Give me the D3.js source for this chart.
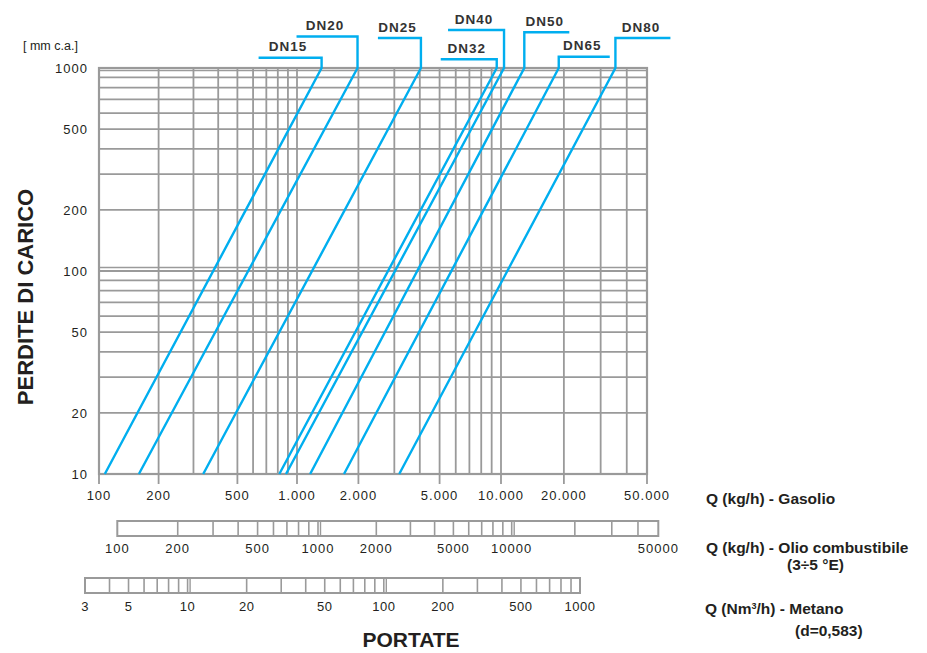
<!DOCTYPE html>
<html>
<head>
<meta charset="utf-8">
<script src="https://cdn.jsdelivr.net/npm/d3@7"></script>
<style>
  html, body { margin: 0; padding: 0; background: #fff; }
  svg { display: block; font-family: "Liberation Sans", Arial, Helvetica, sans-serif; }
</style>
</head>
<body>
<svg id="chart" width="927" height="653"></svg>
<script>
// ---------------- DATA ----------------
const seriesNames   = ["DN15", "DN20", "DN25", "DN32", "DN40", "DN50", "DN65", "DN80"];
// Flow (kg/h gasolio) at pressure loss 10 mm c.a. and 1000 mm c.a.
const flowAtLow     = [107, 159, 336, 814, 880, 1160, 1700, 3170];
const flowAtHigh    = [1320, 1980, 4050, 9530, 10340, 12930, 18900, 35300];
const pressureEnds  = [10, 1000];

const xTickValues   = [100, 200, 500, 1000, 2000, 5000, 10000, 20000, 50000];
const xTickLabels   = ["100", "200", "500", "1.000", "2.000", "5.000", "10.000", "20.000", "50.000"];
const yTickValues   = [10, 20, 50, 100, 200, 500, 1000];
const yTickLabels   = ["10", "20", "50", "100", "200", "500", "1000"];

const olioTickValues   = [100, 200, 500, 1000, 2000, 5000, 10000, 50000];
const olioTickLabels   = ["100", "200", "500", "1000", "2000", "5000", "10000", "50000"];
const metanoTickValues = [3, 5, 10, 20, 50, 100, 200, 500, 1000];
const metanoTickLabels = ["3", "5", "10", "20", "50", "100", "200", "500", "1000"];

// ---------------- LAYOUT (annotation leaders, px) ----------------
const leaderRise = [10.3, 31.5, 30, 8.7, 38, 35.7, 11.3, 30];
const leaderRun  = [-63, -61, -43, -56, -56, 45, 51, 55];

// ---------------- SETUP ----------------
const svg = d3.select("#chart");
const gridColor = "#9a9a9a";
const textColor = "#231f20";
const blue = "#00aeef";

const plot = { left: 99, right: 647, top: 68, bottom: 474 };

const x = d3.scaleLog()
  .domain([100, 1000, 10000, 50000])
  .range([99, 297, 501, 647]);
const y = d3.scaleLog()
  .domain([10, 1000])
  .range([plot.bottom, plot.top]);

const xOlio = d3.scaleLog()
  .domain([100, 1000, 10000, 50000])
  .range([117.3, 318, 511.7, 658.3]);
const xMetano = d3.scaleLog()
  .domain([3, 1000])
  .range([85, 580]);

function minorValues(lo, hi) {
  const out = [];
  for (let d = Math.pow(10, Math.floor(Math.log10(lo))); d <= hi; d *= 10) {
    for (let m = 1; m <= 9; m++) {
      const v = m * d;
      if (v >= lo - 1e-9 && v <= hi + 1e-9) out.push(v);
    }
  }
  return out;
}
const isDecade = v => Math.abs(Math.log10(v) - Math.round(Math.log10(v))) < 1e-9;

// ---------------- GRID ----------------
const grid = svg.append("g").attr("stroke", gridColor).attr("fill", "none");

const xGrid = minorValues(100, 50000);
const yGrid = minorValues(10, 1000);

grid.selectAll("line.v").data(xGrid).join("line")
  .attr("x1", d => x(d)).attr("x2", d => x(d))
  .attr("y1", plot.top).attr("y2", plot.bottom)
  .attr("stroke-width", 1.8);

grid.selectAll("line.h").data(yGrid).join("line")
  .attr("x1", plot.left).attr("x2", plot.right)
  .attr("y1", d => y(d)).attr("y2", d => y(d))
  .attr("stroke-width", 1.8);
grid.selectAll("line.hd").data([100]).join("line")
  .attr("x1", plot.left).attr("x2", plot.right)
  .attr("y1", d => y(d) - 3.5).attr("y2", d => y(d) - 3.5)
  .attr("stroke-width", 1.5);
grid.append("line")
  .attr("x1", plot.left).attr("x2", plot.right)
  .attr("y1", y(1000) + 2.5).attr("y2", y(1000) + 2.5)
  .attr("stroke-width", 1.5);

// tick extensions below the plot
grid.selectAll("line.t").data(xTickValues).join("line")
  .attr("x1", d => x(d)).attr("x2", d => x(d))
  .attr("y1", plot.bottom).attr("y2", plot.bottom + 10)
  .attr("stroke-width", 1.8);

grid.append("rect")
  .attr("x", plot.left).attr("y", plot.top)
  .attr("width", plot.right - plot.left).attr("height", plot.bottom - plot.top)
  .attr("stroke-width", 2.2);

// ---------------- AXIS LABELS ----------------
svg.append("g").selectAll("text").data(xTickValues).join("text")
  .attr("x", d => x(d)).attr("y", 500)
  .attr("text-anchor", "middle")
  .attr("font-size", 13).attr("letter-spacing", 1)
  .attr("fill", textColor)
  .text((d, i) => xTickLabels[i]);

svg.append("g").selectAll("text").data(yTickValues).join("text")
  .attr("x", 88).attr("y", d => y(d) + 5)
  .attr("text-anchor", "end")
  .attr("font-size", 13).attr("letter-spacing", 1)
  .attr("fill", textColor)
  .text((d, i) => yTickLabels[i]);

svg.append("text")
  .attr("x", 23).attr("y", 50)
  .attr("font-size", 12.5)
  .attr("fill", textColor)
  .text("[ mm c.a.]");

svg.append("text")
  .attr("transform", "translate(33,297) rotate(-90)")
  .attr("text-anchor", "middle")
  .attr("font-size", 22).attr("font-weight", "bold")
  .attr("fill", textColor)
  .text("PERDITE DI CARICO");

svg.append("text")
  .attr("x", 411).attr("y", 647)
  .attr("text-anchor", "middle")
  .attr("font-size", 21).attr("font-weight", "bold")
  .attr("fill", textColor)
  .text("PORTATE");

// ---------------- SERIES LINES ----------------
const series = seriesNames.map((name, i) => ({
  name,
  pts: [[flowAtLow[i], pressureEnds[0]], [flowAtHigh[i], pressureEnds[1]]],
  rise: leaderRise[i],
  run: leaderRun[i]
}));

const lineGen = d3.line().x(d => x(d[0])).y(d => y(d[1]));

const sg = svg.append("g");
sg.selectAll("path.s").data(series).join("path")
  .attr("fill", "none").attr("stroke", blue).attr("stroke-width", 2.4)
  .attr("d", d => {
    const top = d.pts[1];
    const tx = x(top[0]), ty = y(top[1]);
    return lineGen(d.pts) + `V${ty - d.rise}H${tx + d.run}`;
  });

sg.selectAll("text").data(series).join("text")
  .attr("x", d => x(d.pts[1][0]) + d.run / 2 - 2)
  .attr("y", d => y(d.pts[1][1]) - d.rise - 6.5)
  .attr("text-anchor", "middle")
  .attr("font-size", 13.5).attr("font-weight", "bold").attr("letter-spacing", 1)
  .attr("fill", "#333")
  .text(d => d.name);

// ---------------- SECONDARY SCALES ----------------
function secondaryScale(scale, lo, hi, yTop, h, ticks, labels, labelY, fs, ls) {
  const g = svg.append("g");
  const divs = minorValues(lo, hi).filter(v => v > lo && v < hi);
  g.append("rect")
    .attr("x", scale(lo)).attr("y", yTop)
    .attr("width", scale(hi) - scale(lo)).attr("height", h)
    .attr("fill", "none").attr("stroke", gridColor).attr("stroke-width", 2);
  g.selectAll("line.d").data(divs).join("line")
    .attr("x1", d => scale(d)).attr("x2", d => scale(d))
    .attr("y1", yTop).attr("y2", yTop + h)
    .attr("stroke", gridColor).attr("stroke-width", 1.6);
  g.selectAll("line.dd").data(divs.filter(isDecade)).join("line")
    .attr("x1", d => scale(d) + 2.5).attr("x2", d => scale(d) + 2.5)
    .attr("y1", yTop).attr("y2", yTop + h)
    .attr("stroke", gridColor).attr("stroke-width", 1.4);
  g.selectAll("text").data(ticks).join("text")
    .attr("x", d => scale(d)).attr("y", labelY)
    .attr("text-anchor", "middle")
    .attr("font-size", fs).attr("letter-spacing", ls)
    .attr("fill", textColor)
    .text((d, i) => labels[i]);
}
secondaryScale(xOlio, 100, 50000, 521, 15, olioTickValues, olioTickLabels, 552.5, 13, 1);
secondaryScale(xMetano, 3, 1000, 578, 15, metanoTickValues, metanoTickLabels, 611, 13, 0.5);

// ---------------- RIGHT TEXTS ----------------
const rt = svg.append("g").attr("font-size", 15.5).attr("font-weight", "bold").attr("fill", textColor);
rt.append("text").attr("x", 706).attr("y", 504).text("Q (kg/h) - Gasolio");
rt.append("text").attr("x", 706).attr("y", 553).text("Q (kg/h) - Olio combustibile");
rt.append("text").attr("x", 787).attr("y", 570).text("(3÷5 °E)");
const mt = rt.append("text").attr("x", 705).attr("y", 614);
mt.append("tspan").text("Q (Nm");
mt.append("tspan").attr("font-size", 9).attr("dy", -5).text("3");
mt.append("tspan").attr("dy", 5).text("/h) - Metano");
rt.append("text").attr("x", 795).attr("y", 636).text("(d=0,583)");
</script>
</body>
</html>
